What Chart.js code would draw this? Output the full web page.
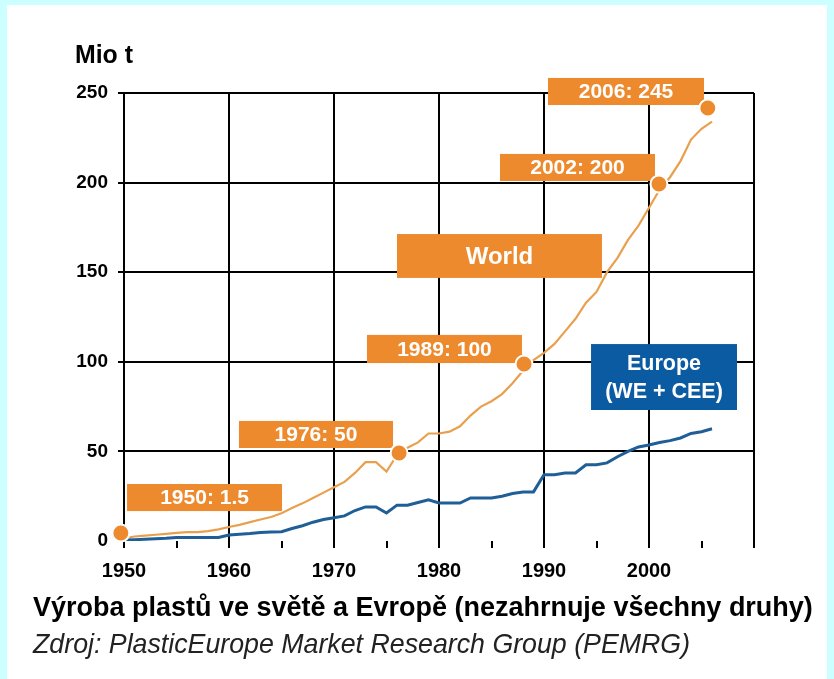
<!DOCTYPE html>
<html><head><meta charset="utf-8">
<script src="https://cdn.jsdelivr.net/npm/chart.js@4.4.1/dist/chart.umd.min.js"></script>
<style>html,body{margin:0;padding:0;background:#ccffff;overflow:hidden}</style>
</head><body><canvas id="c" width="834" height="679"></canvas>
<script>
const years = [1950,1951,1952,1953,1954,1955,1956,1957,1958,1959,1960,1961,1962,1963,1964,1965,1966,1967,1968,1969,1970,1971,1972,1973,1974,1975,1976,1977,1978,1979,1980,1981,1982,1983,1984,1985,1986,1987,1988,1989,1990,1991,1992,1993,1994,1995,1996,1997,1998,1999,2000,2001,2002,2003,2004,2005,2006];
const world = [1.5,2.5,3,3.5,4,4.5,5,5,5.5,6.5,7.8,9,10.5,12,13.4,15.5,18.4,21,24,27,30,33,38,44,44,38.7,48,52,55,60,60,61,64,70,75,78,82,88,95,101,105,110,117,124,133,139,150,158,168,176,186,196,203,212,224,230,234];
const europe = [0.5,0.7,1,1.2,1.5,2,2,2,2,2,3.3,3.8,4.2,4.8,5,5.2,7,8.5,10.5,12,13,14,17,19,19,15.6,20,20,21.5,23,21.2,21.2,21.2,24,24,24,25,26.5,27.4,27.4,37,37,38,38,42.5,42.5,43.6,47,50,52.5,53.6,55,56,57.5,60,61,62.6];
const markerYears = [1949.7,1976.2,1988.1,2000.95,2005.6];
const markerValues = [4.5,49.1,98.8,199.2,241.6];
const xTickValues = [1950,1955,1960,1965,1970,1975,1980,1985,1990,1995,2000,2005,2010];
const xTickLabels = ['1950','','1960','','1970','','1980','','1990','','2000','',''];
const yTickValues = [0,50,100,150,200,250];
const yTickLabels = ['0','50','100','150','200','250'];
const calloutTexts = ['2006: 245','2002: 200','World','1989: 100','Europe\n(WE + CEE)','1976: 50','1950: 1.5'];
// callout boxes anchored in data space [x1, x2, y1(top), y2(bottom)]
const calloutBoxes = [
  [1990.38,2005.24,258.4,243.3],
  [1985.81,2000.57,216.0,200.9],
  [1976.0,1995.52,171.3,146.8],
  [1973.14,1987.90,115.0,99.3],
  [1994.48,2008.38,109.9,73.1],
  [1960.95,1975.62,67.0,51.9],
  [1950.29,1965.05,31.8,16.7]
];
const calloutColors = ['#EE8A2E','#EE8A2E','#EE8A2E','#EE8A2E','#0B5BA2','#EE8A2E','#EE8A2E'];
const calloutFontSizes = [21,21,24,21,21.5,21,21];

const FAM = '"Liberation Sans", Arial, sans-serif';
const pts = (xs, ys) => xs.map((x, i) => ({x: x, y: ys[i]}));

const bgPlugin = {
  id: 'bg',
  beforeDraw(chart) {
    const c = chart.ctx;
    c.save();
    c.fillStyle = '#ccffff';
    c.fillRect(0, 0, chart.width, chart.height);
    c.fillStyle = '#ffffff';
    c.fillRect(7, 5, chart.width - 14, chart.height - 5);
    c.restore();
  }
};

const calloutPlugin = {
  id: 'callouts',
  beforeDatasetsDraw(chart) {
    const c = chart.ctx, xs = chart.scales.x, ys = chart.scales.y;
    c.save();
    calloutBoxes.forEach((b, i) => {
      const x1 = xs.getPixelForValue(b[0]), x2 = xs.getPixelForValue(b[1]);
      const y1 = ys.getPixelForValue(b[2]), y2 = ys.getPixelForValue(b[3]);
      c.fillStyle = calloutColors[i];
      c.fillRect(x1, y1, x2 - x1, y2 - y1);
      const lines = calloutTexts[i].split('\n');
      c.fillStyle = '#ffffff';
      c.font = 'bold ' + calloutFontSizes[i] + 'px ' + FAM;
      c.textAlign = 'center';
      c.textBaseline = 'middle';
      const cx = (x1 + x2) / 2, cy = (y1 + y2) / 2;
      const lh = calloutFontSizes[i] * 1.27;
      lines.forEach((t, k) => {
        c.fillText(t, cx, cy + (k - (lines.length - 1) / 2) * lh + 1);
      });
    });
    c.restore();
  }
};

function fitText(c, text, weight, style, width) {
  c.font = style + ' ' + weight + ' 20px ' + FAM;
  const w = c.measureText(text).width;
  const size = 20 * width / w;
  c.font = style + ' ' + weight + ' ' + size.toFixed(2) + 'px ' + FAM;
}

const textPlugin = {
  id: 'texts',
  afterDraw(chart) {
    const c = chart.ctx;
    c.save();
    c.fillStyle = '#000';
    c.textAlign = 'left';
    c.textBaseline = 'middle';
    fitText(c, 'Mio t', 'bold', 'normal', 58);
    c.fillText('Mio t', 75, 56);
    fitText(c, 'Výroba plastů ve světě a Evropě (nezahrnuje všechny druhy)', 'bold', 'normal', 780);
    c.fillText('Výroba plastů ve světě a Evropě (nezahrnuje všechny druhy)', 33, 609);
    c.fillStyle = '#222';
    fitText(c, 'Zdroj: PlasticEurope Market Research Group (PEMRG)', 'normal', 'italic', 657);
    c.fillText('Zdroj: PlasticEurope Market Research Group (PEMRG)', 33, 646);
    c.restore();
  }
};

new Chart(document.getElementById('c'), {
  type: 'line',
  data: {
    datasets: [
      {label: 'Markers', data: pts(markerYears, markerValues), showLine: false, pointRadius: 8.5,
       pointBackgroundColor: '#EE8A2E', pointBorderColor: '#ffffff', pointBorderWidth: 2, clip: false, order: 0},
      {label: 'World', data: pts(years, world), borderColor: '#E9A04E', borderWidth: 2.2, pointRadius: 0, tension: 0, order: 2},
      {label: 'Europe', data: pts(years, europe), borderColor: '#1F5E97', borderWidth: 3, pointRadius: 0, tension: 0, order: 1}
    ]
  },
  options: {
    responsive: false, animation: false, devicePixelRatio: 1,
    layout: {padding: {top: 93, right: 80, left: 0, bottom: 0}},
    plugins: {legend: {display: false}, tooltip: {enabled: false}},
    scales: {
      x: {
        type: 'linear', min: 1950, max: 2010,
        afterBuildTicks: s => { s.ticks = xTickValues.map(v => ({value: v})); },
        afterFit: s => { s.height = 138; },
        border: {display: false},
        grid: {
          color: ctx => (ctx.tick && ctx.tick.value % 10 === 0) ? '#000' : 'rgba(0,0,0,0)',
          tickColor: '#000', lineWidth: 2, tickLength: 7, tickWidth: 2
        },
        ticks: {
          autoSkip: false, maxRotation: 0, minRotation: 0, padding: 11, color: '#000',
          font: {family: FAM, weight: 'bold', size: 20},
          callback: (v) => { const i = xTickValues.indexOf(v); return i >= 0 ? xTickLabels[i] : ''; }
        }
      },
      y: {
        min: 0, max: 250,
        afterBuildTicks: s => { s.ticks = yTickValues.map(v => ({value: v})); },
        afterFit: s => { s.width = 124; },
        border: {display: false},
        grid: {
          color: ctx => (ctx.tick && ctx.tick.value === 0) ? 'rgba(0,0,0,0)' : '#000',
          tickColor: '#000', lineWidth: 2, tickLength: 6, tickWidth: 2
        },
        ticks: {
          padding: 10, color: '#000',
          font: {family: FAM, weight: 'bold', size: 19},
          callback: (v) => { const i = yTickValues.indexOf(v); return i >= 0 ? yTickLabels[i] : ''; }
        }
      }
    }
  },
  plugins: [bgPlugin, calloutPlugin, textPlugin]
});
</script></body></html>
